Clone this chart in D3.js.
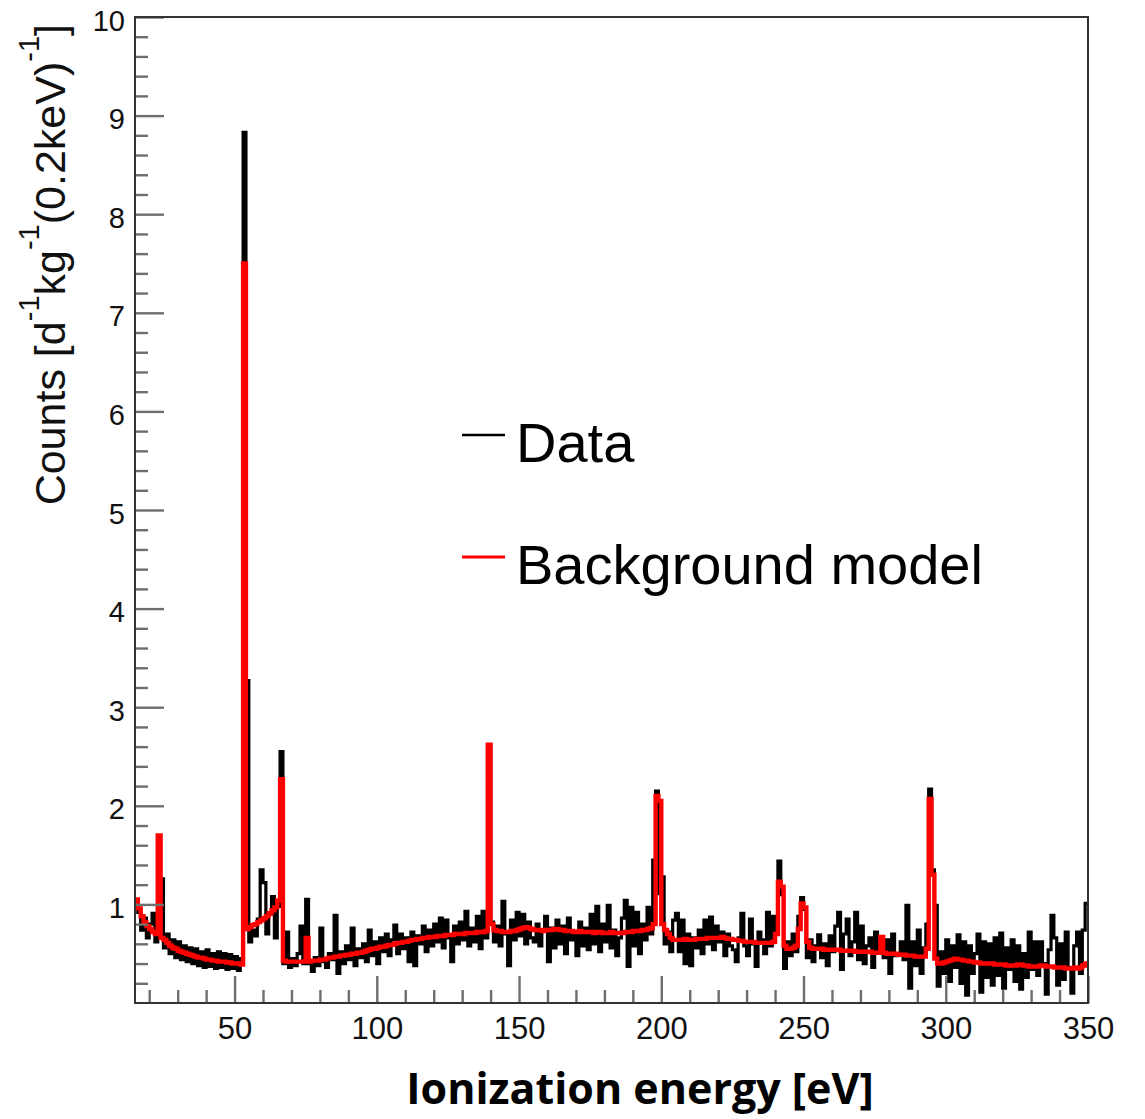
<!DOCTYPE html>
<html>
<head>
<meta charset="utf-8">
<script src="https://cdn.jsdelivr.net/npm/d3@7"></script>
<style>
  body { margin: 0; background: #fff; }
  svg { display: block; }
</style>
</head>
<body>
<script>
// histogram bins: 1 eV wide, low edges 15 ... 349
const binStart = 15;
const binWidth = 1;

// measured counts (black)
const dataCounts = [
  1.00, 0.92, 0.74, 0.86, 0.66, 0.80, 0.91, 0.62, 0.80, 1.26,  // 15
  0.56, 0.70, 0.50, 0.64, 0.46, 0.62, 0.44, 0.58, 0.42, 0.56,  // 25
  0.40, 0.55, 0.38, 0.52, 0.36, 0.54, 0.37, 0.50, 0.35, 0.52,  // 35
  0.36, 0.50, 0.34, 0.49, 0.35, 0.47, 0.33, 0.45, 8.83, 3.27,  // 45
  0.62, 0.74, 0.68, 0.85, 1.35, 1.22, 0.70, 0.90, 1.08, 0.66,  // 55
  0.98, 2.55, 0.40, 0.72, 0.36, 0.45, 0.38, 0.50, 0.78, 0.40,  // 65
  1.05, 0.40, 0.32, 0.46, 0.38, 0.76, 0.42, 0.36, 0.50, 0.44,  // 75
  0.89, 0.30, 0.52, 0.40, 0.58, 0.44, 0.76, 0.38, 0.55, 0.46,  // 85
  0.60, 0.42, 0.74, 0.48, 0.62, 0.40, 0.66, 0.52, 0.70, 0.48,  // 95
  0.64, 0.79, 0.50, 0.70, 0.55, 0.66, 0.42, 0.72, 0.38, 0.68,  // 105
  0.60, 0.78, 0.52, 0.74, 0.58, 0.80, 0.62, 0.86, 0.56, 0.84,  // 115
  0.66, 0.42, 0.78, 0.60, 0.82, 0.64, 0.93, 0.58, 0.76, 0.62,  // 125
  0.88, 0.55, 0.93, 0.66, 2.60, 0.82, 0.62, 0.78, 0.58, 1.03,  // 135
  0.70, 0.38, 0.84, 0.64, 0.92, 0.68, 0.90, 0.60, 0.82, 0.66,  // 145
  0.62, 0.80, 0.58, 0.74, 0.88, 0.42, 0.76, 0.56, 0.84, 0.60,  // 155
  0.78, 0.50, 0.86, 0.64, 0.72, 0.48, 0.82, 0.58, 0.76, 0.54,  // 165
  0.90, 0.60, 0.98, 0.52, 0.80, 0.62, 0.99, 0.56, 0.74, 0.48,  // 175
  0.66, 0.86, 1.04, 0.37, 0.97, 0.58, 0.92, 0.50, 0.80, 0.64,  // 185
  0.97, 0.70, 1.45, 2.15, 1.11, 1.28, 0.60, 0.72, 0.52, 0.84,  // 195
  0.91, 0.52, 0.84, 0.40, 0.70, 0.38, 0.66, 0.56, 0.74, 0.50,  // 205
  0.84, 0.60, 0.87, 0.54, 0.78, 0.62, 0.72, 0.48, 0.70, 0.58,  // 215
  0.54, 0.42, 0.66, 0.91, 0.58, 0.48, 0.85, 0.60, 0.37, 0.72,  // 225
  0.64, 0.50, 0.92, 0.58, 0.88, 0.70, 1.44, 1.10, 0.35, 0.62,  // 235
  0.48, 0.70, 0.52, 0.88, 1.07, 0.95, 0.46, 0.64, 0.42, 0.58,  // 245
  0.69, 0.46, 0.60, 0.38, 0.68, 0.52, 0.78, 0.92, 0.34, 0.70,  // 255
  0.85, 0.48, 0.62, 0.92, 0.44, 0.78, 0.40, 0.58, 0.66, 0.36,  // 265
  0.72, 0.54, 0.60, 0.46, 0.64, 0.30, 0.70, 0.48, 0.50, 0.62,  // 275
  0.44, 0.99, 0.15, 0.62, 0.38, 0.74, 0.30, 0.56, 0.80, 2.17,  // 285
  1.35, 0.99, 0.17, 0.52, 0.30, 0.64, 0.22, 0.58, 0.36, 0.69,  // 295
  0.20, 0.62, 0.08, 0.58, 0.30, 0.50, 0.70, 0.11, 0.62, 0.26,  // 305
  0.60, 0.18, 0.66, 0.28, 0.71, 0.15, 0.56, 0.34, 0.64, 0.22,  // 315
  0.58, 0.14, 0.50, 0.26, 0.72, 0.34, 0.62, 0.28, 0.62, 0.40,  // 325
  0.09, 0.54, 0.89, 0.66, 0.18, 0.60, 0.24, 0.72, 0.36, 0.10,  // 335
  0.58, 0.72, 0.30, 0.74, 1.01                                 // 345
];

// background model (red)
const modelCounts = [
  1.05, 0.96, 0.88, 0.82, 0.78, 0.75, 0.72, 0.70, 1.70, 0.66,  // 15
  0.64, 0.61, 0.58, 0.56, 0.55, 0.53, 0.52, 0.51, 0.50, 0.49,  // 25
  0.48, 0.47, 0.46, 0.46, 0.45, 0.44, 0.44, 0.43, 0.43, 0.42,  // 35
  0.42, 0.42, 0.41, 0.41, 0.40, 0.40, 0.40, 0.39, 7.50, 0.75,  // 45
  0.77, 0.79, 0.80, 0.82, 0.84, 0.86, 0.88, 0.91, 0.94, 0.97,  // 55
  1.04, 2.27, 0.43, 0.42, 0.42, 0.42, 0.42, 0.42, 0.42, 0.42,  // 65
  0.66, 0.42, 0.43, 0.43, 0.43, 0.44, 0.44, 0.45, 0.46, 0.46,  // 75
  0.47, 0.47, 0.48, 0.48, 0.49, 0.49, 0.50, 0.50, 0.51, 0.51,  // 85
  0.52, 0.53, 0.54, 0.55, 0.55, 0.56, 0.57, 0.57, 0.58, 0.59,  // 95
  0.59, 0.60, 0.61, 0.61, 0.62, 0.62, 0.63, 0.64, 0.64, 0.65,  // 105
  0.65, 0.66, 0.66, 0.67, 0.67, 0.67, 0.68, 0.68, 0.68, 0.69,  // 115
  0.69, 0.69, 0.70, 0.70, 0.70, 0.70, 0.71, 0.71, 0.71, 0.71,  // 125
  0.72, 0.72, 0.72, 0.73, 2.62, 0.80, 0.74, 0.73, 0.73, 0.72,  // 135
  0.72, 0.72, 0.73, 0.73, 0.74, 0.75, 0.76, 0.77, 0.76, 0.75,  // 145
  0.74, 0.74, 0.74, 0.73, 0.74, 0.74, 0.74, 0.75, 0.75, 0.74,  // 155
  0.74, 0.73, 0.73, 0.73, 0.72, 0.72, 0.73, 0.72, 0.72, 0.72,  // 165
  0.72, 0.71, 0.72, 0.72, 0.71, 0.71, 0.71, 0.72, 0.71, 0.71,  // 175
  0.71, 0.71, 0.72, 0.72, 0.72, 0.73, 0.73, 0.73, 0.74, 0.74,  // 185
  0.75, 0.76, 0.80, 2.10, 2.05, 0.80, 0.74, 0.70, 0.66, 0.64,  // 195
  0.64, 0.64, 0.64, 0.65, 0.64, 0.64, 0.64, 0.65, 0.65, 0.65,  // 205
  0.65, 0.66, 0.66, 0.66, 0.66, 0.66, 0.67, 0.66, 0.65, 0.65,  // 215
  0.64, 0.64, 0.63, 0.63, 0.62, 0.62, 0.62, 0.62, 0.61, 0.61,  // 225
  0.61, 0.61, 0.61, 0.61, 0.62, 0.70, 1.23, 1.18, 0.58, 0.55,  // 235
  0.55, 0.56, 0.58, 0.75, 1.01, 0.97, 0.62, 0.56, 0.55, 0.55,  // 245
  0.55, 0.55, 0.54, 0.54, 0.54, 0.54, 0.54, 0.54, 0.53, 0.53,  // 255
  0.53, 0.53, 0.53, 0.52, 0.52, 0.52, 0.52, 0.52, 0.52, 0.51,  // 265
  0.51, 0.51, 0.67, 0.51, 0.50, 0.50, 0.50, 0.50, 0.49, 0.49,  // 275
  0.49, 0.48, 0.48, 0.48, 0.47, 0.47, 0.47, 0.47, 0.55, 2.07,  // 285
  1.30, 0.45, 0.40, 0.40, 0.41, 0.42, 0.43, 0.44, 0.45, 0.44,  // 295
  0.44, 0.43, 0.43, 0.42, 0.42, 0.41, 0.41, 0.40, 0.40, 0.40,  // 305
  0.40, 0.40, 0.39, 0.39, 0.39, 0.39, 0.38, 0.38, 0.38, 0.38,  // 315
  0.39, 0.39, 0.38, 0.38, 0.37, 0.37, 0.37, 0.37, 0.38, 0.38,  // 325
  0.37, 0.37, 0.37, 0.36, 0.36, 0.36, 0.36, 0.35, 0.35, 0.35,  // 335
  0.36, 0.35, 0.36, 0.38, 0.40                                 // 345
];

const xMajorTicks = [50, 100, 150, 200, 250, 300, 350];
const xMinorTicks = [20, 30, 40, 60, 70, 80, 90, 110, 120, 130, 140, 160, 170, 180, 190,
                     210, 220, 230, 240, 260, 270, 280, 290, 310, 320, 330, 340];
const yMajorTicks = [1, 2, 3, 4, 5, 6, 7, 8, 9, 10];
const yMinorTicks = d3.range(0.2, 10, 0.2).filter(function(v){ return Math.abs(v - Math.round(v)) > 0.01; });

const legendLabels = ["Data", "Background model"];
const legendColors = ["#000", "#ff0000"];

var width = 1145, height = 1119;
var margin = {top: 17, right: 57, bottom: 116, left: 135};
var plotW = width - margin.left - margin.right,
    plotH = height - margin.top - margin.bottom;

var svg = d3.select("body").append("svg")
    .attr("width", width)
    .attr("height", height);

var g = svg.append("g")
    .attr("transform", "translate(" + margin.left + "," + margin.top + ")");

var xScale = d3.scaleLinear().domain([15, 350]).range([0, plotW]);
var yScale = d3.scaleLinear().domain([0, 10]).range([plotH, 0]);

function histPoints(values){
  var pts = values.map(function(v, i){ return [binStart + i * binWidth, v]; });
  pts.push([binStart + values.length * binWidth, values[values.length - 1]]);
  return pts;
}

var stepLine = d3.line()
    .x(function(d){ return xScale(d[0]); })
    .y(function(d){ return yScale(d[1]); })
    .curve(d3.curveStepAfter);

g.append("path")
    .attr("d", stepLine(histPoints(dataCounts)))
    .attr("fill", "none")
    .attr("stroke", "#000")
    .attr("stroke-width", 3.2);

g.append("path")
    .attr("d", stepLine(histPoints(modelCounts)))
    .attr("fill", "none")
    .attr("stroke", "#ff0000")
    .attr("stroke-width", 4.4);

// axes, ROOT style: ticks inside
var tickColor = "#6e6e6e";

var xMajor = g.append("g")
    .attr("transform", "translate(0," + plotH + ")")
    .call(d3.axisBottom(xScale).tickValues(xMajorTicks).tickSize(-27).tickPadding(14));
var xMinor = g.append("g")
    .attr("transform", "translate(0," + plotH + ")")
    .call(d3.axisBottom(xScale).tickValues(xMinorTicks).tickSize(-13).tickFormat(""));

var yMajor = g.append("g")
    .call(d3.axisLeft(yScale).tickValues(yMajorTicks).tickSize(-29).tickPadding(10));
var yMinor = g.append("g")
    .call(d3.axisLeft(yScale).tickValues(yMinorTicks).tickSize(-13).tickFormat(""));

[xMajor, xMinor, yMajor, yMinor].forEach(function(ax){
  ax.select(".domain").remove();
  ax.selectAll("line").attr("stroke", tickColor).attr("stroke-width", 2.4);
});

xMajor.selectAll("text")
    .attr("font-family", "'Liberation Sans', Arial, sans-serif")
    .attr("font-size", "31px")
    .attr("fill", "#111");

yMajor.selectAll("text")
    .attr("font-family", "'Liberation Sans', Arial, sans-serif")
    .attr("font-size", "29px")
    .attr("dy", "0.45em")
    .attr("fill", "#111");

// frame
g.append("rect")
    .attr("x", 0).attr("y", 0)
    .attr("width", plotW).attr("height", plotH)
    .attr("fill", "none")
    .attr("stroke", "#333")
    .attr("stroke-width", 2);

// axis titles
svg.append("text")
    .attr("x", 640)
    .attr("y", 1104)
    .attr("text-anchor", "middle")
    .attr("font-family", "'Open Sans', sans-serif")
    .attr("font-weight", "bold")
    .attr("font-size", "43px")
    .attr("fill", "#000")
    .text("Ionization energy [eV]");

var yTitle = svg.append("text")
    .attr("transform", "translate(65,24) rotate(-90)")
    .attr("text-anchor", "end")
    .attr("font-family", "'Liberation Sans', Arial, sans-serif")
    .attr("font-size", "43px")
    .attr("fill", "#111");

var titleParts = [["Counts [d", false], ["-1", true], ["kg", false], ["-1", true],
                  ["(0.2keV)", false], ["-1", true], ["]", false]];
titleParts.forEach(function(p){
  var t = yTitle.append("tspan").text(p[0]);
  if (p[1]) t.attr("font-size", "29px").attr("baseline-shift", "0.9em");
});

// legend
var legendY = [435, 557];
var legend = svg.append("g");
legendLabels.forEach(function(label, i){
  legend.append("line")
      .attr("x1", 462).attr("x2", 505)
      .attr("y1", legendY[i]).attr("y2", legendY[i])
      .attr("stroke", legendColors[i])
      .attr("stroke-width", i == 0 ? 2.6 : 3);
  legend.append("text")
      .attr("x", 516)
      .attr("y", legendY[i] + 27)
      .attr("font-family", "'Liberation Sans', Arial, sans-serif")
      .attr("font-size", "56px")
      .attr("fill", "#000")
      .text(label);
});
</script>
</body>
</html>
